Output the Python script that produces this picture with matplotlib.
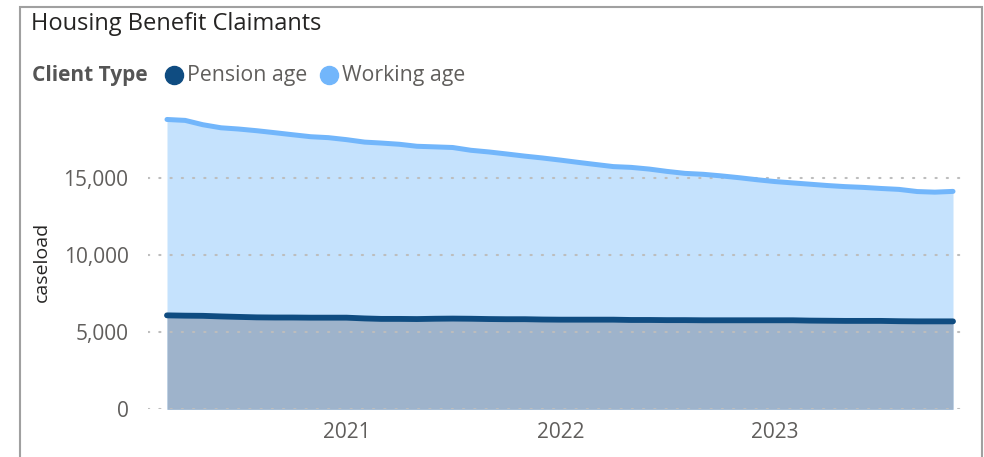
import datetime as dt
import matplotlib
matplotlib.use("Agg")
import matplotlib.pyplot as plt
import matplotlib.dates as mdates
from matplotlib.lines import Line2D
from matplotlib.patches import Rectangle
import numpy as np

plt.rcParams['font.family'] = ['Open Sans', 'DejaVu Sans']

# Monthly caseload, March 2020 - November 2023
start_month = (2020, 3)
n_months = 45

working_age = [18820, 18760, 18480, 18280, 18200, 18090, 17960, 17830, 17700, 17640,
               17510, 17350, 17290, 17210, 17080, 17040, 17000, 16820, 16710, 16580,
               16440, 16320, 16180, 16030, 15900, 15760, 15710, 15600, 15450, 15320,
               15260, 15160, 15040, 14910, 14790, 14700, 14620, 14530, 14460, 14410,
               14340, 14280, 14140, 14100, 14150]

pension_age = [6100, 6080, 6070, 6030, 6000, 5970, 5960, 5960, 5950, 5950,
               5950, 5900, 5870, 5870, 5860, 5880, 5890, 5880, 5860, 5850,
               5850, 5830, 5820, 5820, 5820, 5820, 5800, 5800, 5790, 5790,
               5780, 5780, 5780, 5780, 5780, 5780, 5760, 5750, 5740, 5740,
               5740, 5720, 5710, 5710, 5710]

y_ticks = [0, 5000, 10000, 15000]
x_ticks = [2021, 2022, 2023]

series_names = ["Pension age", "Working age"]
line_colors = ["#0F4C81", "#72B6FB"]
fill_colors = ["#9EB3CB", "#C5E2FD"]

dates = []
y, m = start_month
for _ in range(n_months):
    dates.append(dt.date(y, m, 1))
    m += 1
    if m > 12:
        m = 1
        y += 1
xd = mdates.date2num(dates)

W, H = 984, 457
fig = plt.figure(figsize=(W / 100, H / 100), dpi=100)

def fx(px):
    return px / W

def fy(py):
    return 1 - py / H

ax_left, ax_right = 148, 968
ax_top, ax_bottom = 101.3, 409.3
ax = fig.add_axes([fx(ax_left), fy(ax_bottom), fx(ax_right - ax_left), (ax_bottom - ax_top) / H])

# Areas (overlapping, not stacked)
ax.fill_between(xd, 0, working_age, color=fill_colors[1], lw=0, zorder=1)
ax.fill_between(xd, 0, pension_age, color=fill_colors[0], lw=0, zorder=1.2)

# Dotted gridlines
for t in y_ticks:
    ax.axhline(t, color="#BDBDBD", lw=1.5, ls=(0, (0.6, 4.8)), zorder=2,
               dash_capstyle='round')

ax.plot(xd, working_age, color=line_colors[1], lw=3.6, solid_capstyle='round',
        solid_joinstyle='round', zorder=3)
ax.plot(xd, pension_age, color=line_colors[0], lw=4.2, solid_capstyle='round',
        solid_joinstyle='round', zorder=3.2)

px_per_day = (953 - 167) / (xd[-1] - xd[0])
ax.set_xlim(xd[0] - (167 - ax_left) / px_per_day, xd[-1] + (ax_right - 953) / px_per_day)
ax.set_ylim(0, 20000)

ax.set_yticks(y_ticks)
ax.set_yticklabels([f"{v:,}" for v in y_ticks])
ax.set_xticks(mdates.date2num([dt.date(yr, 1, 1) for yr in x_ticks]))
ax.set_xticklabels([str(yr) for yr in x_ticks])
ax.tick_params(axis='both', length=0, colors="#605E5C", labelsize=15)
ax.tick_params(axis='y', pad=14)
ax.tick_params(axis='x', pad=9)
for s in ax.spines.values():
    s.set_visible(False)
ax.set_facecolor('none')

ax.set_ylabel("caseload", fontsize=14, color="#252423")
ax.yaxis.set_label_coords(fx(51 - ax_left) / fx(ax_right - ax_left), 0.478)

# Title and legend
fig.text(fx(31), fy(24), "Housing Benefit Claimants", fontsize=17, color="#252423",
         ha='left', va='center')
fig.text(fx(32), fy(75), "Client Type", fontsize=15, color="#555555",
         fontweight='bold', ha='left', va='center')
legend_marker_x = [174, 329]
legend_text_x = [187, 342]
for name, col, mx, tx in zip(series_names, line_colors, legend_marker_x, legend_text_x):
    fig.add_artist(Line2D([fx(mx)], [fy(75)], marker='o', markersize=13,
                          color=col, lw=0, transform=fig.transFigure))
    fig.text(fx(tx), fy(75), name, fontsize=15.3, color="#605E5C",
             ha='left', va='center')

# Visual frame
fig.add_artist(Rectangle((fx(20), fy(470)), fx(982 - 20), (470 - 7) / H,
                         transform=fig.transFigure, fill=False,
                         edgecolor="#A0A0A0", lw=1.5))

fig.savefig("out.png", dpi=100)
